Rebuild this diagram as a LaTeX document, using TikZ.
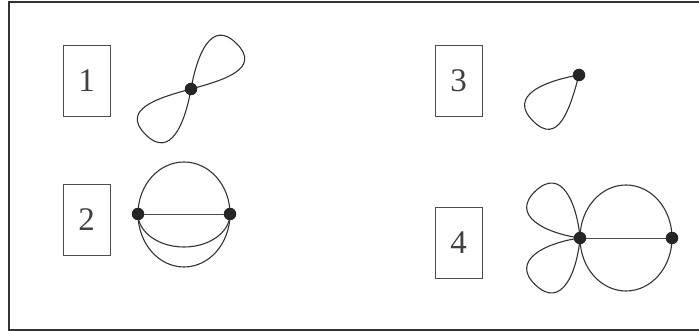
\documentclass[tikz,border=0pt]{standalone}
\usepackage{fontspec}
\setmainfont{Liberation Serif}
\begin{document}
\begin{tikzpicture}[x=1pt,y=1pt,
  edge/.style={draw=black!80, line width=1.1pt},
  bar/.style={draw=black!70, line width=0.8pt},
  lp/.style={looseness=1.4},
  vtx/.style={circle, fill=black!85, inner sep=0pt, minimum size=12.5pt},
  lbl/.style={draw=black!70, line width=0.9pt, minimum width=47pt, minimum height=71pt, inner sep=0pt, text=black!75, font=\fontsize{33}{33}\selectfont},
  frame/.style={draw=black!80, line width=1.2pt}]
\useasboundingbox (0,0) rectangle (699,331);
% frame (right side is cut off)
\coordinate (fTR) at (699,329);
\coordinate (fTL) at (9,329);
\coordinate (fBL) at (9,1);
\coordinate (fBR) at (699,1);
\draw[frame] (fTR) -- (fTL) -- (fBL) -- (fBR);
% labels
\node[lbl] (L1) at (86.5,250.5) {1};
\node[lbl] (L2) at (86.5,111) {2};
\node[lbl] (L3) at (458.5,250.5) {3};
\node[lbl] (L4) at (458.5,88) {4};
% graph 1
\coordinate (v1) at (191,242);
\coordinate (t1a) at (236.5,287.5);
\coordinate (t1b) at (145.5,196.5);
\draw[edge] (v1) to[out=80,in=135,lp] (t1a) to[out=-45,in=15,lp] (v1);
\draw[edge] (v1) to[out=260,in=-45,lp] (t1b) to[out=135,in=195,lp] (v1);
\node[vtx] (n1) at (v1) {};
% graph 2
\coordinate (a2) at (138,117);
\coordinate (b2) at (230,117);
\draw[edge] (a2) arc[start angle=180, end angle=0, x radius=46, y radius=52];
\draw[edge] (a2) arc[start angle=180, end angle=360, x radius=46, y radius=53];
\draw[edge] (a2) arc[start angle=180, end angle=360, x radius=46, y radius=33];
\draw[bar] (a2) -- (b2);
\node[vtx] (n2a) at (a2) {};
\node[vtx] (n2b) at (b2) {};
% graph 3
\coordinate (v3) at (579,256);
\coordinate (t3) at (533,210);
\draw[edge] (v3) to[out=190,in=135,lp] (t3) to[out=-45,in=255,lp] (v3);
\node[vtx] (n3) at (v3) {};
% graph 4
\coordinate (a4) at (580,93);
\coordinate (b4) at (672,93);
\coordinate (t4a) at (535.5,140);
\coordinate (t4b) at (535.5,46);
\draw[edge] (626,93) ellipse[x radius=46, y radius=53];
\draw[bar] (a4) -- (b4);
\draw[edge] (a4) to[out=95,in=43.5,lp] (t4a) to[out=223.5,in=172,lp] (a4);
\draw[edge] (a4) to[out=265,in=-43.5,lp] (t4b) to[out=136.5,in=188,lp] (a4);
\node[vtx] (n4a) at (a4) {};
\node[vtx] (n4b) at (b4) {};
\end{tikzpicture}
\end{document}
